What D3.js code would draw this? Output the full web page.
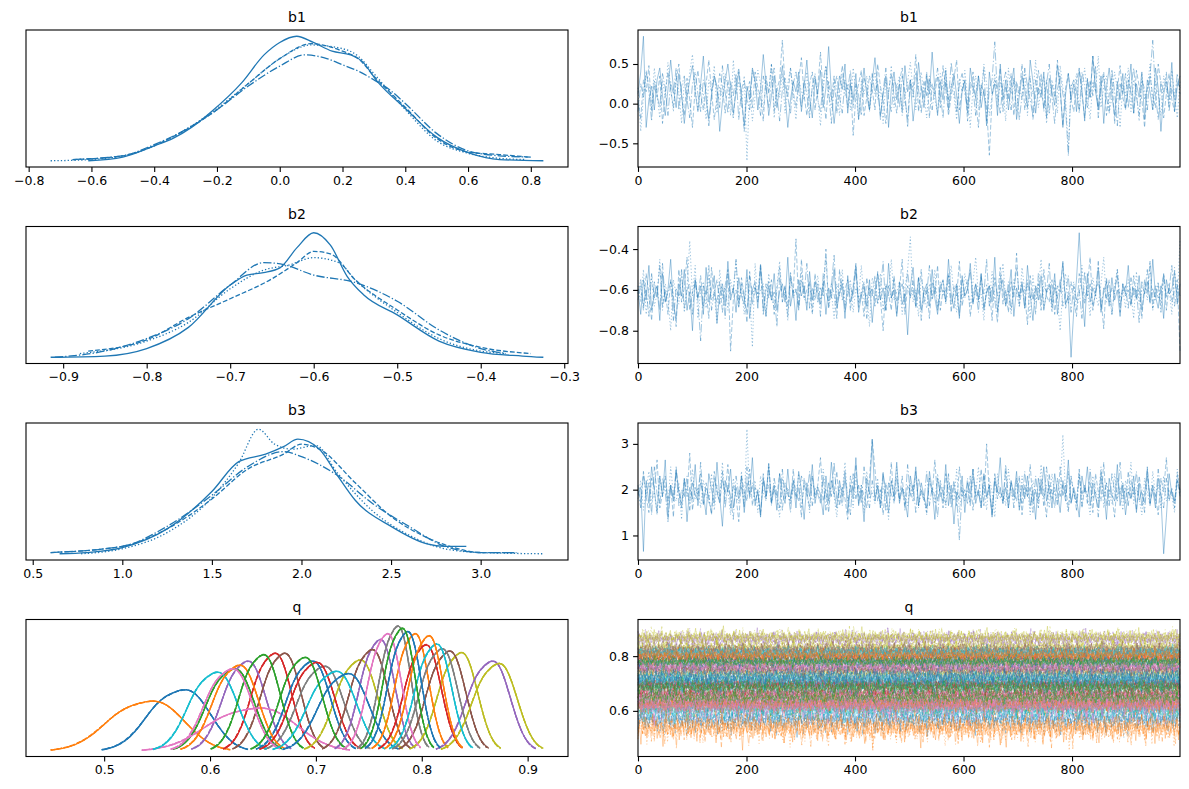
<!DOCTYPE html>
<html><head><meta charset="utf-8">
<script src="https://cdn.jsdelivr.net/npm/d3@7"></script>
<style>body{margin:0;background:#fff}svg{display:block;font-family:"DejaVu Sans",sans-serif}</style>
</head><body><svg id="c" width="1189" height="789"></svg>
<script>
// ---------- DATA ----------
const params = ["b1","b2","b3"];
// KDE curves per chain [x, relative density] (chain 0..3)
const kdeB1 = [
 [[-0.61,0],[-0.5,0.03],[-0.4,0.12],[-0.34,0.18],[-0.28,0.27],[-0.22,0.39],[-0.12,0.63],[-0.05,0.85],[0.0,0.95],[0.054,1.0],[0.107,0.95],[0.167,0.88],[0.226,0.85],[0.262,0.80],[0.31,0.64],[0.4,0.42],[0.5,0.19],[0.607,0.06],[0.7,0.01],[0.84,0.0]],
 [[-0.66,0.01],[-0.5,0.04],[-0.4,0.12],[-0.35,0.18],[-0.2,0.41],[-0.1,0.62],[0.0,0.82],[0.1,0.94],[0.2,0.88],[0.25,0.82],[0.3,0.68],[0.4,0.43],[0.5,0.18],[0.6,0.07],[0.7,0.05],[0.79,0.03]],
 [[-0.73,0],[-0.6,0.01],[-0.5,0.04],[-0.4,0.12],[-0.3,0.25],[-0.2,0.42],[-0.1,0.62],[0.0,0.82],[0.1,0.93],[0.2,0.90],[0.25,0.84],[0.3,0.70],[0.4,0.41],[0.5,0.16],[0.6,0.06],[0.7,0.02],[0.78,0.01]],
 [[-0.66,0.01],[-0.5,0.04],[-0.4,0.13],[-0.3,0.25],[-0.2,0.41],[-0.1,0.6],[0.0,0.76],[0.08,0.85],[0.15,0.82],[0.2,0.77],[0.25,0.72],[0.3,0.65],[0.35,0.57],[0.4,0.46],[0.5,0.22],[0.6,0.08],[0.7,0.04],[0.8,0.03]]
];
const kdeB2 = [
 [[-0.915,0],[-0.85,0.01],[-0.8,0.07],[-0.75,0.24],[-0.7,0.58],[-0.68,0.66],[-0.66,0.68],[-0.64,0.72],[-0.62,0.88],[-0.6,1.0],[-0.58,0.9],[-0.56,0.65],[-0.54,0.5],[-0.5,0.34],[-0.45,0.13],[-0.4,0.04],[-0.35,0.01],[-0.325,0.0]],
 [[-0.87,0.05],[-0.8,0.14],[-0.75,0.32],[-0.7,0.47],[-0.65,0.63],[-0.62,0.76],[-0.6,0.85],[-0.58,0.83],[-0.55,0.62],[-0.5,0.38],[-0.45,0.18],[-0.4,0.08],[-0.34,0.03]],
 [[-0.88,0.03],[-0.8,0.13],[-0.75,0.28],[-0.7,0.55],[-0.66,0.7],[-0.63,0.74],[-0.6,0.8],[-0.57,0.76],[-0.55,0.62],[-0.5,0.36],[-0.45,0.15],[-0.4,0.05],[-0.37,0.03]],
 [[-0.91,0.0],[-0.85,0.05],[-0.8,0.15],[-0.75,0.31],[-0.7,0.58],[-0.66,0.76],[-0.64,0.75],[-0.6,0.66],[-0.55,0.6],[-0.5,0.45],[-0.45,0.22],[-0.4,0.07],[-0.37,0.03]]
];
const kdeB3 = [
 [[0.65,0],[0.8,0.01],[1.0,0.05],[1.25,0.2],[1.5,0.5],[1.65,0.74],[1.8,0.8],[1.9,0.86],[1.98,0.92],[2.1,0.84],[2.2,0.63],[2.3,0.43],[2.5,0.22],[2.7,0.08],[2.8,0.06],[2.92,0.06]],
 [[0.6,0.01],[1.0,0.06],[1.25,0.2],[1.5,0.44],[1.7,0.68],[1.9,0.8],[2.0,0.88],[2.1,0.84],[2.3,0.57],[2.5,0.3],[2.7,0.13],[2.85,0.05],[3.0,0.01],[3.2,0.01]],
 [[0.77,0],[1.0,0.04],[1.25,0.17],[1.5,0.45],[1.65,0.73],[1.76,1.0],[1.85,0.88],[1.95,0.84],[2.08,0.87],[2.2,0.65],[2.4,0.34],[2.6,0.15],[2.8,0.04],[3.0,0.01],[3.35,0]],
 [[0.6,0.01],[1.0,0.06],[1.25,0.22],[1.5,0.47],[1.7,0.7],[1.9,0.82],[2.0,0.78],[2.2,0.63],[2.4,0.4],[2.6,0.22],[2.8,0.06],[3.0,0.01],[3.2,0.01]]
];
// Trace values (x100), every 5th draw per chain
const traceB1 = [
 [12,40,85,-30,5,22,-8,30,45,10,-15,18,55,20,-5,38,12,-25,8,30,48,15,-10,25,60,5,-20,12,35,18,-35,2,28,50,20,-12,15,40,8,-28,22,5,45,30,-8,18,62,25,-15,10,35,-5,20,48,12,-30,5,28,15,40,-10,22,55,8,-18,30,12,42,-5,20,72,15,-25,8,35,18,50,-12,25,5,38,-20,15,45,10,-8,28,58,20,-15,12,35,-30,18,40,5,25,-10,48,15,30,-22,8,52,20,-5,35,12,65,18,-15,28,5,42,-8,20,38,10,-25,15,30,-12,45,22,8,35,-5,18,-28,40,12,25,-15,50,5,30,-8,22,45,-20,10,35,18,-5,55,28,-12,20,8,40,-18,32,15,-2,48,22,-30,12,38,5,25,-10,42,18,-22,30,8,60,15,-8,35,-25,20,45,10,-15,28,5,38,-5,18,50,-12,25,8,40,-20,30,15,-8,45,20,-35,12,28,5,52,-10,22,35],
 [5,-20,30,15,48,-10,22,8,35,-25,12,40,18,-5,28,50,10,-15,32,5,-30,20,42,12,-8,25,55,15,-20,8,38,22,-12,30,5,-18,25,45,10,-35,15,28,-5,40,20,8,-22,35,12,50,-10,18,30,80,22,8,45,15,-5,30,58,10,-15,25,40,-8,20,65,12,-20,28,5,35,-12,18,48,22,-5,30,-40,10,25,42,-15,8,35,18,-8,50,22,5,-25,15,38,10,-12,28,45,5,-20,30,15,62,-10,22,8,40,-18,25,12,35,-5,48,20,-15,10,32,55,-8,18,28,-22,15,40,5,-30,25,12,-5,-65,8,30,18,45,-10,22,5,38,-15,28,12,50,-8,20,35,-20,10,42,18,-5,30,-12,25,8,55,15,-28,20,38,5,-10,28,45,12,-18,32,8,60,20,-5,25,40,-15,12,35,-25,18,48,8,-8,30,15,-12,42,22,5,-30,18,35,10,-5,50,25,-18,12,38,5,-10,28,20],
 [20,-35,10,38,25,-5,45,12,-18,30,8,52,20,-10,35,15,-25,28,5,40,62,18,-8,25,12,-20,30,15,48,-12,22,8,38,20,-15,55,12,28,-5,35,-72,18,-22,10,42,25,-8,30,15,50,-18,20,8,38,-12,25,45,10,-20,30,15,5,40,-10,22,35,8,-28,18,48,12,-5,30,20,-15,38,10,25,-8,45,15,-20,28,12,35,-10,22,40,5,18,-25,30,12,48,-5,20,35,-15,8,28,52,15,-8,25,40,10,-18,30,22,5,-12,38,18,45,-5,25,10,-20,32,15,42,8,-30,20,35,-8,15,50,25,-15,10,38,-5,28,18,-22,45,12,30,-10,22,5,40,-15,28,12,55,-5,18,35,-25,10,30,15,-12,48,20,5,-58,25,12,38,-8,20,45,10,-20,28,15,60,-5,22,35,-12,8,40,18,-30,25,10,45,-10,30,15,-22,38,5,20,50,-8,28,12,-15,35,22,-5,42,10,-18,28],
 [-10,25,8,42,15,-22,30,10,-5,38,20,-15,28,12,45,-8,22,35,5,-18,25,40,12,-10,30,18,-28,8,35,22,-5,48,15,-12,28,10,38,-20,18,30,5,-8,42,25,12,-15,35,20,-5,28,45,10,-22,18,32,8,-12,25,40,15,-5,30,12,-18,22,38,5,-10,28,48,15,-25,20,35,8,-12,30,18,42,-5,25,10,-15,32,20,-8,38,12,28,-20,15,45,5,-10,30,22,-5,35,15,-30,25,8,40,18,-12,28,10,35,-8,22,45,12,-18,30,5,52,20,-10,25,38,12,-5,28,20,-15,35,10,45,-22,18,30,78,8,-12,25,40,15,-8,32,20,-20,10,45,22,5,-15,30,12,38,-10,25,50,8,-25,18,35,12,-5,-66,20,30,15,-12,40,22,-5,28,10,48,-18,20,35,8,-10,42,15,-28,25,12,38,-5,22,45,10,-15,30,18,-8,35,80,12,-20,28,15,40,-10,22,5,38,12]
];
const traceB2 = [
 [-60,-72,-55,-65,-48,-70,-62,-58,-75,-52,-66,-60,-45,-68,-74,-57,-63,-50,-70,-61,-80,-55,-64,-58,-72,-49,-66,-60,-53,-76,-62,-57,-68,-46,-65,-59,-71,-54,-63,-67,-50,-74,-60,-56,-69,-48,-62,-73,-58,-65,-52,-70,-61,-57,-66,-44,-68,-60,-75,-55,-63,-58,-70,-51,-65,-56,-61,-67,-56,-72,-59,-64,-50,-69,-62,-57,-74,-53,-66,-60,-48,-71,-63,-58,-68,-55,-76,-61,-52,-65,-59,-70,-47,-64,-60,-73,-56,-67,-62,-82,-58,-49,-66,-54,-70,-61,-57,-68,-50,-64,-72,-59,-55,-66,-45,-62,-69,-58,-74,-53,-63,-60,-47,-67,-57,-65,-52,-70,-61,-58,-66,-44,-71,-60,-55,-68,-62,-50,-73,-59,-64,-56,-69,-48,-62,-75,-58,-65,-53,-70,-61,-57,-66,-52,-72,-60,-46,-67,-63,-93,-70,-55,-32,-60,-78,-52,-66,-59,-63,-49,-71,-61,-56,-68,-54,-65,-60,-73,-57,-62,-48,-67,-59,-64,-53,-70,-61,-56,-66,-45,-63,-69,-58,-74,-55,-62,-60,-51,-67,-57],
 [-65,-58,-70,-52,-62,-75,-56,-64,-48,-68,-60,-72,-55,-63,-78,-50,-66,-59,-44,-70,-61,-57,-64,-53,-68,-60,-74,-49,-62,-66,-56,-71,-58,-50,-90,-65,-60,-69,-54,-63,-76,-51,-67,-59,-62,-47,-70,-57,-64,-55,-72,-60,-49,-66,-58,-73,-53,-61,-35,-68,-45,-64,-60,-56,-71,-52,-66,-59,-63,-40,-69,-57,-62,-74,-50,-65,-60,-55,-70,-58,-47,-66,-61,-73,-54,-63,-59,-68,-51,-64,-80,-57,-62,-70,-53,-66,-60,-45,-72,-58,-64,-55,-69,-61,-50,-67,-59,-74,-56,-62,-48,-70,-60,-65,-53,-71,-58,-63,-46,-68,-60,-55,-73,-62,-57,-66,-52,-69,-61,-58,-75,-54,-63,-49,-67,-60,-71,-56,-64,-42,-68,-59,-62,-77,-53,-65,-60,-57,-70,-50,-63,-66,-55,-72,-58,-61,-47,-69,-62,-56,-65,-73,-52,-60,-67,-58,-44,-70,-61,-56,-64,-79,-54,-66,-59,-62,-50,-71,-57,-63,-60,-68,-53,-65,-59,-74,-55,-62,-46,-69,-58,-64,-61,-52,-70,-57,-66,-60,-55,-90],
 [-58,-66,-50,-72,-60,-54,-68,-62,-45,-70,-57,-64,-80,-55,-62,-67,-52,-71,-59,-36,-63,-48,-74,-60,-56,-69,-53,-65,-61,-77,-50,-64,-58,-70,-55,-62,-46,-66,-59,-72,-54,-61,-88,-47,-65,-60,-57,-73,-52,-63,-69,-58,-46,-66,-61,-75,-55,-62,-59,-70,-51,-64,-67,-56,-72,-60,-53,-65,-58,-44,-69,-61,-74,-57,-63,-50,-68,-60,-55,-71,-59,-64,-48,-66,-62,-78,-54,-60,-67,-52,-70,-58,-63,-45,-65,-61,-56,-72,-59,-50,-34,-66,-60,-73,-54,-62,-69,-57,-64,-50,-70,-61,-55,-67,-59,-48,-63,-71,-58,-65,-52,-60,-68,-56,-44,-64,-62,-75,-57,-66,-51,-63,-70,-58,-47,-65,-60,-72,-55,-62,-68,-49,-61,-57,-74,-53,-66,-60,-45,-69,-62,-58,-71,-55,-64,-80,-59,-52,-67,-61,-56,-70,-63,-48,-65,-59,-73,-54,-62,-68,-57,-44,-66,-61,-72,-58,-50,-64,-60,-69,-55,-62,-74,-51,-67,-60,-57,-65,-47,-70,-61,-56,-68,-53,-63,-59,-72,-49,-66,-35],
 [-62,-55,-68,-60,-73,-52,-64,-58,-70,-47,-66,-61,-56,-75,-59,-63,-50,-69,-60,-57,-72,-54,-65,-85,-58,-62,-48,-70,-61,-55,-67,-59,-74,-52,-63,-60,-45,-68,-57,-64,-71,-53,-62,-59,-66,-49,-72,-60,-56,-65,-61,-78,-54,-63,-58,-68,-51,-64,-60,-70,-55,-62,-47,-69,-59,-65,-57,-73,-52,-61,-66,-58,-43,-67,-60,-55,-71,-62,-58,-64,-50,-69,-61,-56,-74,-59,-63,-53,-67,-60,-46,-70,-58,-64,-55,-72,-61,-57,-66,-51,-63,-60,-68,-54,-75,-59,-62,-48,-65,-58,-70,-56,-63,-60,-52,-67,-61,-57,-73,-55,-64,-59,-50,-66,-60,-71,-54,-62,-45,-68,-58,-65,-76,-53,-61,-67,-56,-70,-60,-49,-63,-57,-69,-55,-64,-60,-72,-52,-66,-58,-61,-47,-70,-59,-64,-55,-68,-62,-53,-71,-58,-65,-60,-74,-51,-63,-57,-68,-62,-46,-70,-59,-64,-55,-72,-60,-53,-67,-61,-58,-69,-54,-63,-60,-76,-56,-62,-50,-67,-59,-65,-57,-71,-52,-64,-60,-48,-68,-58,-63]
];
const traceB3 = [
 [190,205,65,220,170,250,200,150,230,185,265,140,210,175,240,195,160,225,130,205,180,255,165,215,190,145,235,200,170,260,185,120,220,195,245,160,205,180,230,150,215,190,270,165,200,140,225,185,250,175,210,155,235,195,170,245,180,220,160,240,200,135,215,185,255,170,205,190,145,230,175,260,195,160,220,185,240,150,210,180,270,165,200,130,225,190,310,175,210,160,235,195,150,220,185,260,170,205,180,140,230,195,250,165,215,185,160,240,200,135,225,190,175,255,165,210,125,195,180,230,150,215,190,245,170,200,160,235,185,210,140,225,195,270,175,205,160,220,185,240,155,210,180,230,165,200,135,225,190,250,175,210,160,235,195,150,220,185,265,170,205,180,140,230,195,250,165,215,185,160,240,200,135,225,190,175,255,165,210,145,195,180,230,150,215,165,190,245,170,200,160,225,185,60,140,235,190,175,220,200],
 [210,170,240,185,150,225,200,265,160,190,230,175,210,140,250,195,170,220,185,280,155,205,190,235,165,215,180,145,240,200,170,225,190,255,160,210,185,130,230,195,175,245,165,205,190,150,220,180,260,170,200,185,235,155,215,190,170,245,180,205,140,225,195,160,230,185,210,270,175,200,150,220,190,240,165,205,180,135,230,195,255,170,210,185,160,225,310,245,175,200,145,215,185,260,170,205,180,230,155,210,195,175,240,165,200,185,150,225,190,265,175,210,160,235,195,180,220,165,250,185,200,170,230,155,210,185,245,165,300,190,150,220,180,205,170,240,160,215,195,175,230,145,210,185,255,170,200,160,225,190,140,235,180,205,165,250,185,210,155,230,190,170,245,160,205,185,220,150,235,195,175,260,165,200,185,140,225,190,215,170,240,180,205,155,230,190,170,250,165,210,185,145,225,195,270,175,200,160,220,185],
 [180,220,155,200,240,170,195,145,230,185,210,165,250,190,175,215,135,225,195,170,245,180,205,160,220,190,170,235,155,210,185,260,175,200,145,225,190,170,240,160,332,185,205,220,150,230,195,175,255,165,210,180,140,225,190,205,170,205,185,235,160,215,195,150,230,180,205,170,245,190,165,220,185,140,210,195,260,175,200,160,230,185,210,150,240,180,195,170,225,160,205,190,135,220,185,250,175,205,190,165,215,185,240,160,200,180,145,225,195,170,235,185,205,160,220,190,175,245,150,210,185,200,165,230,190,250,170,210,155,225,195,140,235,180,200,165,245,190,175,215,160,230,185,205,145,220,195,170,255,180,210,160,235,190,175,200,320,185,150,225,195,170,240,165,210,185,145,230,200,175,250,160,215,190,170,235,180,205,155,220,190,260,170,205,180,145,225,195,165,240,185,210,160,230,175,200,185,150,245,190],
 [200,160,235,185,215,145,250,190,170,225,195,130,210,180,245,165,200,185,230,155,215,190,175,260,170,205,185,150,225,195,170,240,160,210,185,135,230,190,205,165,250,180,215,175,195,145,235,185,210,170,225,190,160,245,180,200,150,220,195,175,230,210,185,240,165,205,190,170,230,155,215,185,260,175,200,165,225,190,145,235,180,210,170,250,195,160,220,185,205,170,240,155,215,190,175,230,180,200,165,255,185,210,150,225,195,175,240,165,205,185,140,220,190,170,235,160,210,185,90,200,175,225,165,245,185,195,160,230,180,210,145,235,190,200,170,255,180,215,160,225,195,170,240,185,205,150,230,180,215,165,250,190,200,160,225,185,210,175,240,170,200,155,230,190,210,170,245,180,195,140,225,185,215,165,235,195,175,260,180,205,165,220,190,240,175,200,150,230,185,210,170,245,190,160,225,180,205,170,235,195]
];
// q: posterior location and spread per component (index order)
const qMean = [0.569,0.537,0.618,0.657,0.631,0.666,0.637,0.703,0.737,0.6015,0.692,0.623,0.646,0.696,0.757,0.749,0.616,0.774,0.833,0.714,0.725,0.790,0.685,0.800,0.862,0.822,0.764,0.815,0.868,0.810,0.783,0.803,0.778];
const qSd = [0.0220,0.0270,0.0164,0.0138,0.0150,0.0138,0.0313,0.0159,0.0148,0.0171,0.0150,0.0157,0.0140,0.0152,0.0121,0.0133,0.0164,0.0108,0.0137,0.0169,0.0174,0.0115,0.0144,0.0127,0.0150,0.0135,0.0115,0.0132,0.0154,0.0126,0.0113,0.0117,0.0110];
// standardized draw deviations (x10), four blocks
const qDev = [
 [3,-8,12,-2,6,-15,9,1,-6,18,-4,7,-11,2,14,-7,5,-19,10,0,-3,16,-9,4,-13,8,-1,21,-6,3,-10,11,-5,7,-17,13,2,-8,5,-22,9,-3,15,-12,6,0,-7,19,-4,10,-14,3,8,-1,-25,12,-6,4,17,-9,1,-11,7,-2,13,-16,5,9,-5,0,22,-8,3,-13,11,-4,6,-18,14,1,-7,8,-10,4,16,-3,-9,12,-1,5,-20,10,-6,3,28,-12,7,-2,9,-15,2,13,-8,6,-4,18,-11,0,-30,10,4,-6,15,-3,8,-14,1,11,-9,5,-1,20,-7,2,-12],
 [-5,9,-12,4,16,-3,7,-9,1,13,-17,6,-2,10,-7,20,-4,3,-14,8,-1,12,-10,5,-20,15,-6,2,9,-13,4,18,-8,0,11,-5,-23,7,14,-2,6,-11,3,17,-9,1,-15,10,-4,8,24,-7,2,-12,13,-1,5,-18,9,-6,4,15,-10,0,7,-3,-21,12,-8,3,10,-14,6,-2,19,-5,1,-11,8,-16,4,13,-7,2,-9,11,-1,26,-4,6,-13,3,9,-19,5,-6,14,-2,8,-10,0,17,-8,4,-27,11,-3,7,-12,2,15,-5,9,-1,-16,6,12,-9,3,-4,21,-7],
 [8,-3,14,-10,2,6,-17,11,-5,0,19,-8,4,-13,9,-1,15,-6,3,-21,12,-4,7,-9,1,17,-14,5,-2,10,-7,24,-11,3,8,-16,6,-1,13,-5,-26,9,2,-12,16,-4,7,-8,0,11,-18,5,-3,14,-10,2,20,-6,8,-15,4,-1,12,-9,6,-22,3,10,-4,17,-12,1,7,-7,-2,15,-11,5,9,-19,3,-5,13,-1,6,-14,10,-8,2,18,-4,27,-16,4,-9,11,0,-6,8,-13,5,14,-3,-20,9,-7,1,16,-10,6,-2,12,-15,3,-5,19,-8,7,-11,2,10,-4],
 [-9,4,11,-6,1,-15,18,-3,7,-11,5,0,-19,9,-2,13,-8,6,-1,22,-12,3,10,-5,-24,8,-4,15,-10,2,12,-7,5,-17,9,1,-3,20,-9,6,-13,4,11,-6,0,16,-11,3,-20,8,-2,14,-7,5,-1,-16,10,3,-9,18,-4,7,-12,1,13,-6,-25,9,-2,6,-14,11,4,-8,19,-3,0,-11,7,15,-5,-18,10,-1,5,-13,8,-7,2,21,-9,4,-3,12,-16,6,-28,9,1,-6,14,-2,8,-11,3,17,-8,5,-15,10,-1,6,-20,13,2,-4,-9,16,-6,4,-12]
];
// tick labels
const kdeTicks = [[-0.8,-0.6,-0.4,-0.2,0.0,0.2,0.4,0.6,0.8],[-0.9,-0.8,-0.7,-0.6,-0.5,-0.4,-0.3],[0.5,1.0,1.5,2.0,2.5,3.0],[0.5,0.6,0.7,0.8,0.9]];
const traceYTicks = [[-0.5,0.0,0.5],[-0.8,-0.6,-0.4],[1,2,3],[0.6,0.8]];
const drawTicks = [0,200,400,600,800];
const nDraws = 1000;

// ---------- RENDER ----------
const C = ['#1f77b4','#ff7f0e','#2ca02c','#d62728','#9467bd','#8c564b','#e377c2','#7f7f7f','#bcbd22','#17becf'];
const dash = [null,'4.8,2.1','1.3,2.1','8.3,2.1,1.3,2.1'];
const svg = d3.select('#c');
const W = 542, H = 137, LX = 26, RX = 638, TOPS = [30,226.5,423,619.5];
const f1 = d3.format('.1f'), fd = d3.format('d');

function pad(ext){const r=ext[1]-ext[0];return [ext[0]-0.05*r, ext[1]+0.05*r];}
function styleAxis(a){a.attr('font-size',12.5).attr('font-family','DejaVu Sans');a.select('.domain').remove();a.selectAll('line').attr('stroke','#000').attr('stroke-width',1.1);a.selectAll('text').attr('fill','#000');}
function panel(x0,y0,title){const g=svg.append('g').attr('transform',`translate(${x0},${y0})`);
 g.append('text').attr('x',W/2).attr('y',-8).attr('text-anchor','middle').attr('font-size',14).attr('fill','#000').text(title);
 return g;}
function finish(g,xs,xt,xf,ys,yt,yf){
 const ax=g.append('g').attr('transform',`translate(0,${H})`).call(d3.axisBottom(xs).tickValues(xt).tickFormat(xf).tickSize(4.9).tickPadding(4.2).tickSizeOuter(0));styleAxis(ax);
 if(yt){const ay=g.append('g').call(d3.axisLeft(ys).tickValues(yt).tickFormat(yf).tickSize(4.9).tickPadding(4.2).tickSizeOuter(0));styleAxis(ay);}
 g.append('rect').attr('width',W).attr('height',H).attr('fill','none').attr('stroke','#000').attr('stroke-width',1.1);}

function kdeOf(vals){const n=vals.length,s=d3.deviation(vals),bw=0.45*s;const lo=d3.min(vals)-0.5*bw,hi=d3.max(vals)+0.5*bw;
 return d3.range(61).map(j=>{const x=lo+(hi-lo)*j/60;let d=0;for(const v of vals){const u=(x-v)/bw;d+=Math.exp(-0.5*u*u);}return [x,d/(n*bw*Math.sqrt(2*Math.PI))];});}

const kdes=[kdeB1,kdeB2,kdeB3];
const traces=[traceB1,traceB2,traceB3].map(p=>p.map(ch=>ch.map(v=>v/100)));

// q draws per component/chain: three deviation blocks per chain, shifted per component
const qSamples = qMean.map((m,k)=>[0,1,2,3].map(c=>{
  const blocks=[c,(c+1)%4,(c+2)%4].map(b=>qDev[b]);
  return blocks.flatMap(dv=>{const n=dv.length,off=(k*37+c*11)%n;return dv.map((_,i)=>m+qSd[k]*dv[(i+off)%n]/10);});}));
const qKde = qSamples.map(chs=>chs.map(kdeOf));

function drawKde(row,curves,colorOf,title,ticks){
 const all=curves.flat(2);
 const xs=d3.scaleLinear().domain(pad(d3.extent(all,d=>d[0]))).range([0,W]);
 const ys=d3.scaleLinear().domain(pad(d3.extent(all,d=>d[1]))).range([H,0]);
 const g=panel(LX,TOPS[row],title);
 const line=d3.line().x(d=>xs(d[0])).y(d=>ys(d[1])).curve(d3.curveMonotoneX);
 curves.forEach((chs,k)=>[3,2,1,0].forEach(ci=>{g.append('path').attr('d',line(chs[ci])).attr('fill','none').attr('stroke',colorOf(k)).attr('stroke-width',1.3).attr('stroke-dasharray',dash[ci]);}));
 finish(g,xs,ticks,f1,null,null,null);}

function drawTrace(row,series,colorOf,title,yt,yf,lw,op){
 const allv=series.flat(2);
 const xs=d3.scaleLinear().domain([0,nDraws-1]).range([0,W]);
 const ys=d3.scaleLinear().domain(pad(d3.extent(allv))).range([H,0]);
 const g=panel(RX,TOPS[row],title);
 series.forEach((chs,k)=>chs.forEach((ch,ci)=>{const step=(nDraws-1)/(ch.length-1);
  const line=d3.line().x((d,i)=>xs(i*step)).y(d=>ys(d));
  g.append('path').attr('d',line(ch)).attr('fill','none').attr('stroke',colorOf(k)).attr('stroke-width',lw).attr('stroke-opacity',op).attr('stroke-dasharray',dash[ci]);}));
 finish(g,xs,drawTicks,fd,ys,yt,yf);}

params.forEach((p,r)=>{
 drawKde(r,[kdes[r]],()=>C[0],p,kdeTicks[r]);
 drawTrace(r,[traces[r]],()=>C[0],p,traceYTicks[r],r===2?fd:f1,1,0.42);
});
drawKde(3,qKde,k=>C[k%10],'q',kdeTicks[3]);
drawTrace(3,qSamples,k=>C[k%10],'q',traceYTicks[3],f1,1,0.35);
</script></body></html>
